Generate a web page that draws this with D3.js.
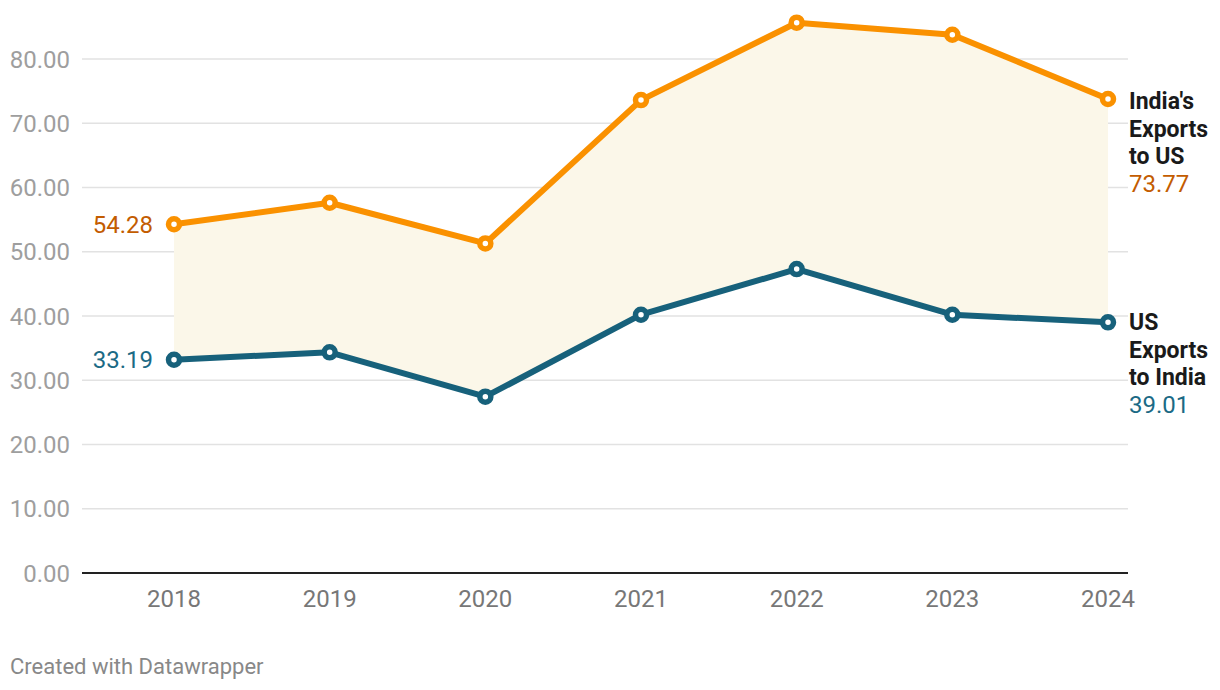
<!DOCTYPE html>
<html>
<head>
<meta charset="utf-8">
<script src="https://cdn.jsdelivr.net/npm/d3@7"></script>
<style>
  body { margin: 0; background: #fff; font-family: Roboto, "Noto Sans", sans-serif; }
  .grid line { stroke: #e2e2e2; stroke-width: 1.5; }
</style>
</head>
<body>
<svg id="chart" width="1220" height="690"></svg>
<script>
// data
var years = [2018, 2019, 2020, 2021, 2022, 2023, 2024];
var indiaExports = [54.28, 57.63, 51.3, 73.6, 85.65, 83.78, 73.77];
var usExports = [33.19, 34.35, 27.44, 40.2, 47.3, 40.2, 39.01];
var yTicks = [0, 10, 20, 30, 40, 50, 60, 70, 80];

var orange = "#fa9100", orangeText = "#c35c00";
var teal = "#17617b", tealText = "#1b6a85";

var svg = d3.select("#chart");

var x = d3.scalePoint().domain(years).range([174, 1108]);
var y = d3.scaleLinear().domain([0, 80]).range([573, 59]);

// gridlines
svg.append("g").attr("class", "grid")
  .selectAll("line").data(yTicks.filter(function(d) { return d > 0; })).enter()
  .append("line")
  .attr("x1", 82).attr("x2", 1128)
  .attr("y1", function(d) { return y(d); }).attr("y2", function(d) { return y(d); });

// y labels
svg.append("g").selectAll("text").data(yTicks).enter()
  .append("text")
  .attr("x", 70).attr("y", function(d) { return y(d); })
  .attr("dy", "0.36em")
  .attr("text-anchor", "end")
  .attr("fill", "#9e9e9e")
  .style("font-size", "24px")
  .text(function(d) { return d3.format(".2f")(d); });

// area between the two lines
var rows = years.map(function(yr, i) { return { year: yr, a: indiaExports[i], b: usExports[i] }; });
svg.append("path").datum(rows)
  .attr("fill", "#fbf7e9")
  .attr("d", d3.area()
    .x(function(d) { return x(d.year); })
    .y0(function(d) { return y(d.b); })
    .y1(function(d) { return y(d.a); }));

// baseline
svg.append("line").attr("x1", 82).attr("x2", 1128)
  .attr("y1", y(0)).attr("y2", y(0))
  .attr("stroke", "#222").attr("stroke-width", 2);

// x labels
svg.append("g").selectAll("text").data(years).enter()
  .append("text")
  .attr("x", function(d) { return x(d); }).attr("y", 607)
  .attr("text-anchor", "middle")
  .attr("fill", "#777")
  .style("font-size", "24px")
  .text(function(d) { return d; });

function drawSeries(vals, color) {
  var line = d3.line()
    .x(function(d, i) { return x(years[i]); })
    .y(function(d) { return y(d); });
  svg.append("path").datum(vals)
    .attr("fill", "none").attr("stroke", color)
    .attr("stroke-width", 6).attr("stroke-linejoin", "round")
    .attr("d", line);
  svg.append("g").selectAll("circle").data(vals).enter()
    .append("circle")
    .attr("cx", function(d, i) { return x(years[i]); })
    .attr("cy", function(d) { return y(d); })
    .attr("r", 5.5)
    .attr("fill", "#fff").attr("stroke", color).attr("stroke-width", 5.5);
}
drawSeries(indiaExports, orange);
drawSeries(usExports, teal);

// start value labels
svg.append("text").attr("x", 153).attr("y", y(indiaExports[0])).attr("dy", "0.36em")
  .attr("text-anchor", "end").attr("fill", orangeText).style("font-size", "24px")
  .text(d3.format(".2f")(indiaExports[0]));
svg.append("text").attr("x", 153).attr("y", y(usExports[0])).attr("dy", "0.36em")
  .attr("text-anchor", "end").attr("fill", tealText).style("font-size", "24px")
  .text(d3.format(".2f")(usExports[0]));

// end labels
function endLabel(lines, val, color, yTop) {
  var t = svg.append("text").attr("x", 1129).attr("y", yTop).style("font-size", "23px");
  lines.forEach(function(l, i) {
    t.append("tspan").attr("x", 1129).attr("dy", i === 0 ? 0 : 27.7)
      .attr("fill", "#1a1a1a").style("font-weight", "bold").text(l);
  });
  t.append("tspan").attr("x", 1129).attr("dy", 27.7)
    .attr("fill", color).style("font-size", "24px").text(d3.format(".2f")(val));
}
endLabel(["India's", "Exports", "to US"], indiaExports[6], orangeText, 109);
endLabel(["US", "Exports", "to India"], usExports[6], tealText, 330);

// footer
svg.append("text").attr("x", 10).attr("y", 674)
  .attr("fill", "#888").style("font-size", "22px")
  .text("Created with Datawrapper");
</script>
</body>
</html>
